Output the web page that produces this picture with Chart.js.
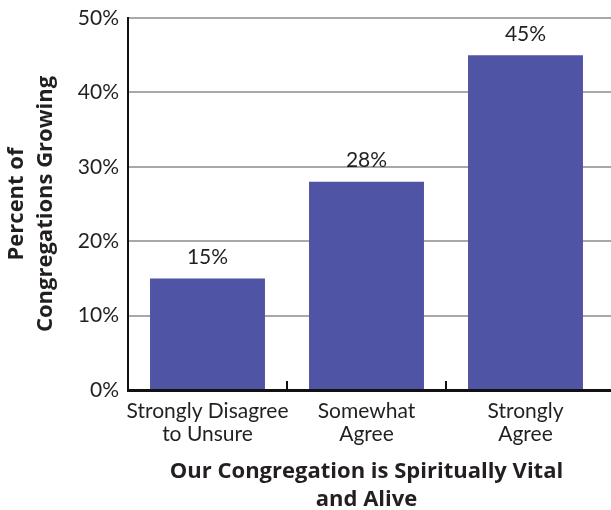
<!DOCTYPE html>
<html>
<head>
<meta charset="utf-8">
<script src="https://cdn.jsdelivr.net/npm/chart.js@4/dist/chart.umd.min.js"></script>
<style>
  html, body { margin: 0; padding: 0; background: #fff; }
  #wrap { width: 611px; height: 510px; }
</style>
</head>
<body>
<div id="wrap"><canvas id="growth"></canvas></div>
<script>
// categories and values
const categories = [
    ['Strongly Disagree', 'to Unsure'],
    ['Somewhat', 'Agree'],
    ['Strongly', 'Agree']
];
const percentGrowing = [15, 28, 45];
const yTicks = [0, 10, 20, 30, 40, 50];

const textColor = '#231f20';
const barColor = '#5054a4';
const gridColor = '#a8a8a8';
const fontFamily = 'Lato, "Noto Sans", sans-serif';
const titleFamily = '"Open Sans", Lato, sans-serif';

// value labels above the bars + inward ticks on the category axis
const extras = {
    id: 'extras',
    afterDraw(chart) {
        const ctx = chart.ctx;
        const area = chart.chartArea;
        const xs = chart.scales.x;
        const ys = chart.scales.y;
        ctx.save();

        // gridlines and axis line run to the canvas edge
        ctx.strokeStyle = gridColor;
        ctx.lineWidth = 2;
        yTicks.forEach(v => {
            if (v === 0) return;
            const y = Math.round(ys.getPixelForValue(v));
            ctx.beginPath();
            ctx.moveTo(area.right, y);
            ctx.lineTo(chart.width, y);
            ctx.stroke();
        });
        ctx.strokeStyle = '#111';
        ctx.lineWidth = 3;
        ctx.beginPath();
        ctx.moveTo(area.right - 1, area.bottom + 0.5);
        ctx.lineTo(chart.width, area.bottom + 0.5);
        ctx.stroke();

        // tick marks between categories, pointing up
        const step = xs.getPixelForValue(1) - xs.getPixelForValue(0);
        ctx.lineWidth = 2;
        for (let i = 1; i < categories.length; i++) {
            const x = Math.round(xs.getPixelForValue(i) - step / 2);
            ctx.beginPath();
            ctx.moveTo(x, area.bottom);
            ctx.lineTo(x, area.bottom - 9);
            ctx.stroke();
        }

        // value labels
        ctx.fillStyle = textColor;
        ctx.font = '21px ' + fontFamily;
        ctx.textAlign = 'center';
        ctx.textBaseline = 'middle';
        chart.getDatasetMeta(0).data.forEach((bar, i) => {
            ctx.fillText(percentGrowing[i] + '%', bar.x, bar.y - 21);
        });
        ctx.restore();
    }
};

new Chart(document.getElementById('growth'), {
    type: 'bar',
    data: {
        labels: categories,
        datasets: [{
            data: percentGrowing,
            backgroundColor: barColor,
            borderWidth: 0,
            barPercentage: 0.723,
            categoryPercentage: 1
        }]
    },
    options: {
        responsive: true,
        maintainAspectRatio: false,
        animation: false,
        events: [],
        layout: { padding: { top: 18, right: 6, left: 0, bottom: 0 } },
        plugins: {
            legend: { display: false },
            tooltip: { enabled: false }
        },
        scales: {
            x: {
                grid: { display: false },
                border: { display: true, color: '#111', width: 3 },
                ticks: {
                    color: textColor,
                    font: { family: fontFamily, size: 21, lineHeight: 1.1 },
                    padding: 2,
                    maxRotation: 0,
                    autoSkip: false
                },
                title: {
                    display: true,
                    text: ['Our Congregation is Spiritually Vital', 'and Alive'],
                    color: textColor,
                    font: { family: titleFamily, size: 22, weight: 'bold', lineHeight: 1.27 },
                    padding: { top: 0, bottom: -4 }
                },
                afterFit(scale) { scale.height = 120; }
            },
            y: {
                min: 0,
                max: 50,
                afterBuildTicks(scale) {
                    scale.ticks = yTicks.map(v => ({ value: v }));
                },
                grid: {
                    color: gridColor,
                    lineWidth: 2,
                    drawTicks: false
                },
                border: { display: true, color: '#111', width: 2 },
                ticks: {
                    color: textColor,
                    font: { family: fontFamily, size: 21 },
                    padding: 9,
                    callback: v => v + '%'
                },
                title: {
                    display: true,
                    text: ['Percent of', 'Congregations Growing'],
                    color: textColor,
                    font: { family: titleFamily, size: 22, weight: 'bold', lineHeight: 1.32 },
                    padding: { top: 2, bottom: 0 }
                },
                afterFit(scale) {
                    scale.width = 128;
                    scale.paddingTop = 0;
                    scale.paddingBottom = 0;
                }
            }
        }
    },
    plugins: [extras]
});
</script>
</body>
</html>
